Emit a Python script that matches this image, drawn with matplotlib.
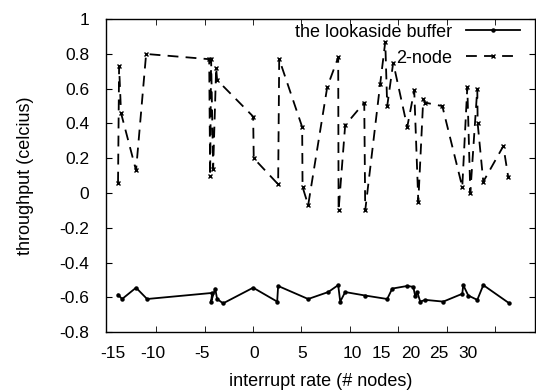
import matplotlib
matplotlib.use("Agg")
import matplotlib.pyplot as plt
from matplotlib.ticker import FixedLocator

plt.rcParams['font.family'] = ['Liberation Sans', 'DejaVu Sans']

# "the lookaside buffer" series
buf_x = [-13.93, -13.51, -12.07, -10.93, -4.21, -4.32, -3.90, -3.70, -3.08, 0.02,
         2.50, 2.60, 5.70, 7.77, 8.80, 9.01, 9.52, 11.59, 13.86, 14.38, 15.93,
         16.55, 16.76, 16.96, 17.27, 17.79, 19.65, 21.61, 21.71, 22.23, 23.16,
         23.78, 26.47]
buf_y = [-0.585, -0.61, -0.545, -0.61, -0.575, -0.625, -0.55, -0.61, -0.635, -0.545,
         -0.625, -0.535, -0.61, -0.57, -0.53, -0.625, -0.57, -0.59, -0.61, -0.55, -0.535,
         -0.54, -0.595, -0.57, -0.625, -0.615, -0.625, -0.58, -0.53, -0.59, -0.615,
         -0.53, -0.635]

# "2-node" series
node_x = [-13.93, -13.82, -13.62, -12.07, -11.03, -4.52, -4.42, -4.32, -4.11, -3.80,
          -3.70, 0.02, 0.08, 2.60, 2.71, 5.08, 5.12, 5.70, 7.67, 8.80, 8.84, 9.52,
          11.49, 11.59, 13.14, 13.66, 13.86, 14.48, 15.93, 16.65, 17.07, 17.58,
          17.79, 19.55, 21.61, 22.13, 22.44, 23.16, 23.20, 23.78, 25.85, 26.36]
node_y = [0.06, 0.73, 0.46, 0.13, 0.80, 0.77, 0.10, 0.77, 0.14, 0.72,
          0.65, 0.44, 0.20, 0.05, 0.77, 0.38, 0.035, -0.07, 0.61, 0.78, -0.10, 0.39,
          0.52, -0.10, 0.63, 0.87, 0.50, 0.75, 0.38, 0.59, -0.05, 0.54,
          0.52, 0.50, 0.035, 0.61, 0.0, 0.60, 0.40, 0.065, 0.27, 0.09]

xtick_marks = [-10, -5, 0, 5, 10, 15, 20, 25]
xlabel_pos = [-14.44, -10.3, -5.25, 0.12, 5.08, 10.25, 13.24, 16.24, 19.23, 22.23]
xlabel_text = ['-15', '-10', '-5', '0', '5', '10', '15', '20', '25', '30']
yticks = [-0.8, -0.6, -0.4, -0.2, 0, 0.2, 0.4, 0.6, 0.8, 1]
ylabels = ['-0.8', '-0.6', '-0.4', '-0.2', '0', '0.2', '0.4', '0.6', '0.8', '1']

FS = 12.5

fig = plt.figure(figsize=(5.36, 3.92), dpi=100)
ax = fig.add_axes([0.1978, 0.153, 0.800, 0.798])

ax.plot(buf_x, buf_y, color='black', lw=1.3, marker='o', ms=2.2,
        label='the lookaside buffer')
ax.plot(node_x, node_y, color='black', lw=1.3, ls=(0, (6, 4)), marker='x', ms=3.5,
        mew=1.0, label='2-node')

ax.set_xlim(-15.17, 29.1)
ax.set_ylim(-0.8, 1.0)

ax.xaxis.set_major_locator(FixedLocator(xlabel_pos))
ax.set_xticklabels(xlabel_text)
ax.xaxis.set_minor_locator(FixedLocator(xtick_marks))
ax.tick_params(axis='x', which='major', length=0, pad=10, labelsize=FS)
ax.tick_params(axis='x', which='minor', direction='in', length=4, top=True, bottom=True)

ax.set_yticks(yticks)
ax.set_yticklabels(ylabels)
ax.tick_params(axis='y', which='major', direction='in', length=4, right=True, pad=12,
               labelsize=FS)

for s in ax.spines.values():
    s.set_linewidth(1.0)

ax.set_xlabel('interrupt rate (# nodes)', fontsize=FS + 0.5, labelpad=9)
ax.set_ylabel('throughput (celcius)', fontsize=FS + 0.5, labelpad=18)

leg = ax.legend(loc='upper right', bbox_to_anchor=(0.99, 1.02), frameon=False,
                markerfirst=False, fontsize=FS + 0.5, handlelength=3.0,
                borderaxespad=0.2, labelspacing=0.5, handletextpad=0.75)
for t in leg.get_texts():
    t.set_ha('right')

fig.savefig('out.png', dpi=100)
